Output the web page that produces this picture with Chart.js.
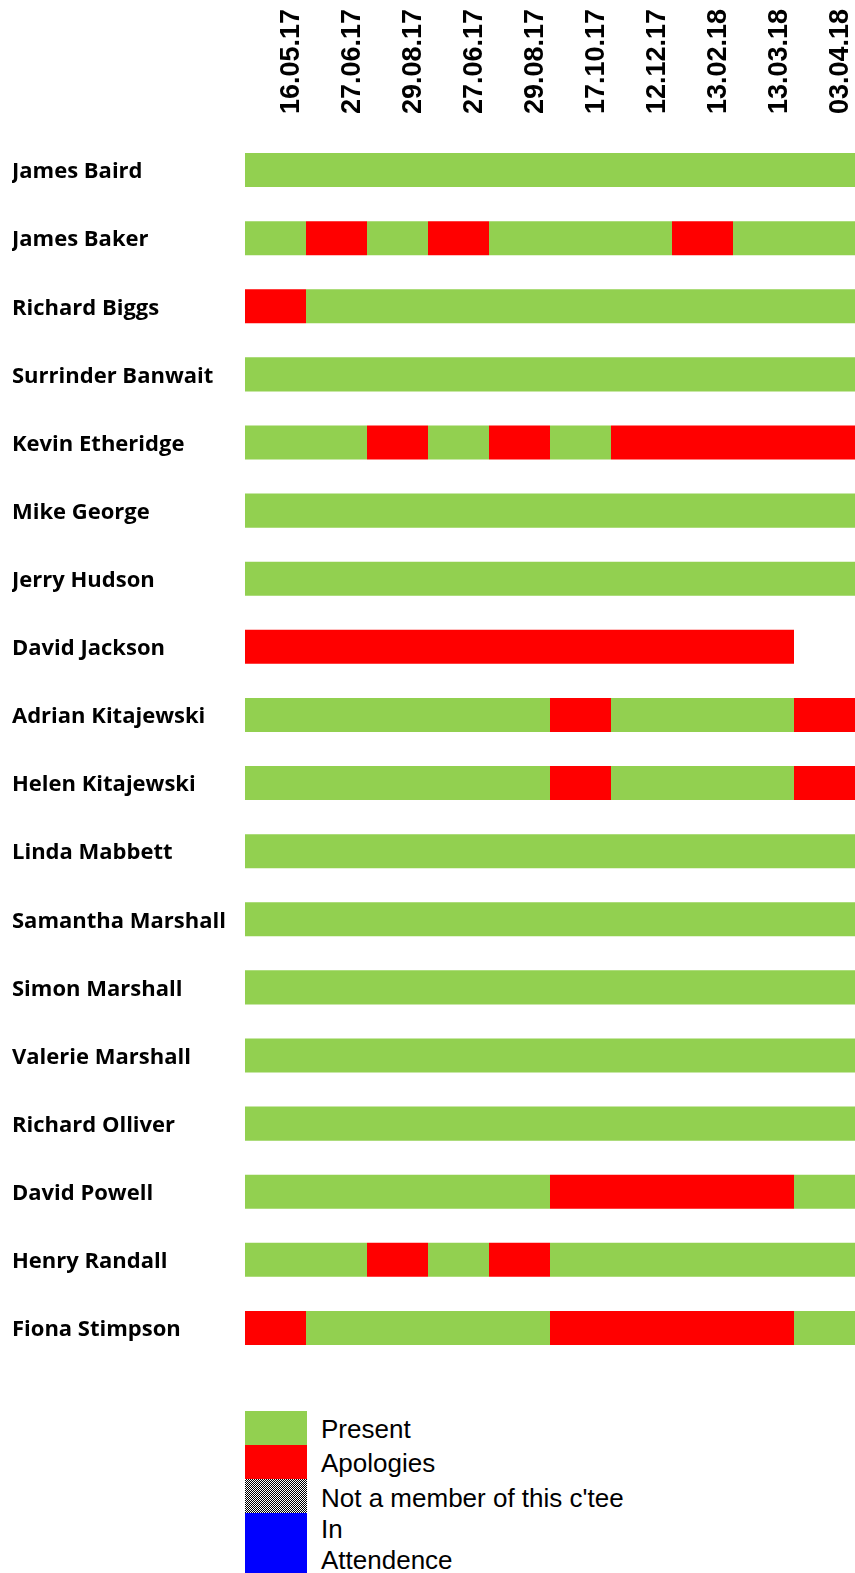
<!DOCTYPE html>
<html>
<head>
<meta charset="utf-8">
<script src="https://cdn.jsdelivr.net/npm/chart.js@4"></script>
<style>
  body { margin: 0; background: #fff; width: 855px; height: 1573px; position: relative; overflow: hidden; }
  #wrap { position: absolute; left: 0; top: 0; width: 855px; height: 1395px; }
  .lg { position: absolute; left: 245px; width: 62px; }
  .lt { position: absolute; left: 321px; font: 26px/30px "Liberation Sans", Arial, sans-serif; color: #000; white-space: nowrap; }
</style>
</head>
<body>
<div id="wrap"><canvas id="attend"></canvas></div>

<div class="lg" style="top:1411px;height:34px;background:#92D050"></div>
<div class="lg" style="top:1445px;height:34px;background:#FF0000"></div>
<div class="lg" style="top:1479px;height:34px;background:repeating-conic-gradient(#000 0 25%, #fff 0 50%) 0 0/2px 2px"></div>
<div class="lg" style="top:1513px;height:60px;background:#0000FF"></div>
<div class="lt" style="top:1414px">Present</div>
<div class="lt" style="top:1448px">Apologies</div>
<div class="lt" style="top:1483px">Not a member of this c'tee</div>
<div class="lt" style="top:1514px">In</div>
<div class="lt" style="top:1545px">Attendence</div>

<script>
const meetings = ['16.05.17','27.06.17','29.08.17','27.06.17','29.08.17','17.10.17','12.12.17','13.02.18','13.03.18','03.04.18'];

const members = ['James Baird','James Baker','Richard Biggs','Surrinder Banwait','Kevin Etheridge','Mike George',
  'Jerry Hudson','David Jackson','Adrian Kitajewski','Helen Kitajewski','Linda Mabbett','Samantha Marshall',
  'Simon Marshall','Valerie Marshall','Richard Olliver','David Powell','Henry Randall','Fiona Stimpson'];

// P = present, A = apologies, - = nothing recorded
const attendance = [
  'PPPPPPPPPP',
  'PAPAPPPAPP',
  'APPPPPPPPP',
  'PPPPPPPPPP',
  'PPAPAPAAAA',
  'PPPPPPPPPP',
  'PPPPPPPPPP',
  'AAAAAAAAA-',
  'PPPPPAPPPA',
  'PPPPPAPPPA',
  'PPPPPPPPPP',
  'PPPPPPPPPP',
  'PPPPPPPPPP',
  'PPPPPPPPPP',
  'PPPPPPPPPP',
  'PPPPPAAAAP',
  'PPAPAPPPPP',
  'APPPPAAAAP'
];

const statusColors = { 'P': '#92D050', 'A': '#FF0000', '-': 'rgba(0,0,0,0)' };

function meetingDataset(i) {
  return {
    label: meetings[i],
    data: members.map(() => 1),
    backgroundColor: attendance.map(row => statusColors[row[i]]),
    borderWidth: 0,
    barPercentage: 0.5,
    categoryPercentage: 1.0,
    xAxisID: 'x',
    yAxisID: 'y'
  };
}

const data = {
  labels: members,
  datasets: meetings.map((m, i) => meetingDataset(i))
};

const config = {
  type: 'bar',
  data: data,
  options: {
    indexAxis: 'y',
    responsive: true,
    maintainAspectRatio: false,
    animation: false,
    layout: { padding: { left: 12, right: 0, top: 0, bottom: 33 } },
    plugins: { legend: { display: false }, tooltip: { enabled: false } },
    scales: {
      x: {
        stacked: true, min: 0, max: meetings.length, display: false
      },
      xTop: {
        type: 'category',
        labels: meetings,
        position: 'top',
        offset: true,
        grid: { display: false },
        border: { display: false },
        afterFit: s => { s.height = 136; },
        ticks: {
          autoSkip: false, minRotation: 90, maxRotation: 90,
          padding: 14, labelOffset: 48, color: '#000',
          font: { family: '"Liberation Sans", Arial, sans-serif', weight: 'bold', size: 27 }
        }
      },
      y: {
        stacked: true,
        grid: { display: false },
        border: { display: false },
        afterFit: s => { s.width = 233; },
        ticks: {
          crossAlign: 'far', color: '#000', labelOffset: 2,
          font: { family: '"Open Sans", sans-serif', weight: 'bold', size: 22 }
        }
      }
    }
  }
};

new Chart(document.getElementById('attend').getContext('2d'), config);
</script>
</body>
</html>
